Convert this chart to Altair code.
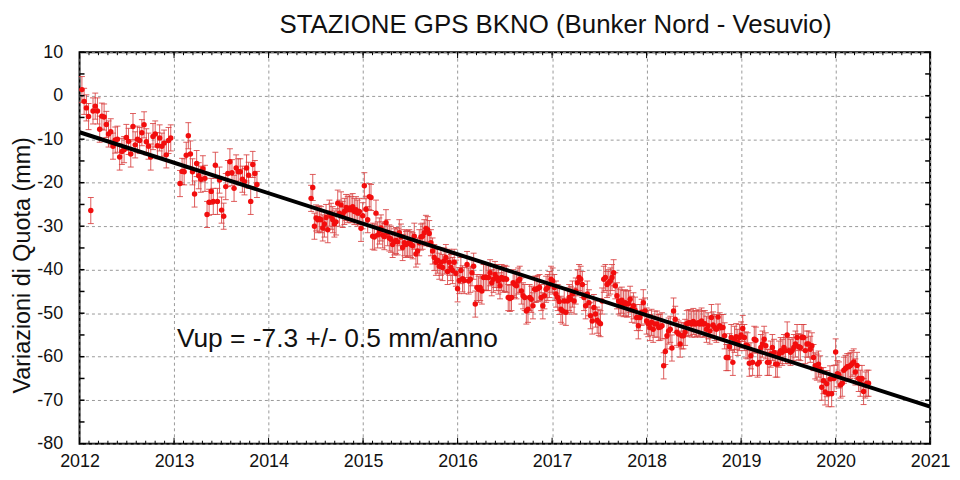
import altair as alt
import numpy as np
import pandas as pd

# ---------------- data ----------------
# segments of the GPS time series: (start year, end year) and vertical variations (mm)
seg_a1_years = (2012.025, 2012.965)
seg_a1_vals = [1.4, -1.3, -2.8, -4.8, -26.4, -3.5, -2.4, -3.5, -7.7, -4.7,
               -4.9, -6.6, -8.8, -8.3, -11.6, -10.2, -10.0, -14.1, -12.8, -12.4,
               -9.6, -10.5, -13.4, -7.1, -11.3, -10.0, -10.3, -8.5, -6.7, -10.6,
               -11.6, -14.1, -9.4, -8.8, -11.5, -9.7, -11.6, -10.9, -13.6, -10.3,
               -9.7]

seg_a2_years = (2013.063, 2013.877)
seg_a2_vals = [-20.2, -17.4, -17.5, -13.7, -9.2, -13.4, -17.5, -22.6, -15.6, -18.4,
               -19.2, -16.8, -19.0, -27.3, -24.5, -22.0, -24.3, -16.0, -24.3, -19.4,
               -26.3, -27.7, -20.9, -17.9, -15.2, -17.7, -21.3, -16.6, -17.5, -17.5,
               -19.2, -19.8, -16.6, -18.3, -24.3, -15.8, -17.9, -20.4]

seg_b_years = (2014.45, 2016.07)
seg_b_vals = [-23.6, -21.1, -30.0, -28.1, -28.5, -28.3, -28.5, -30.4, -29.5, -28.0,
              -30.8, -27.0, -27.7, -28.5, -29.5, -29.0, -24.7, -27.0, -25.1, -27.3,
              -26.6, -25.7, -26.2, -25.8, -26.2, -25.5, -26.6, -26.2, -27.0, -26.6,
              -30.5, -27.6, -20.7, -26.1, -28.5, -23.2, -23.4, -32.3, -32.5, -27.0,
              -32.0, -31.1, -30.4, -32.0, -32.4, -29.2, -31.5, -32.7, -33.0, -34.2,
              -33.6, -33.3, -33.6, -31.5, -32.5, -34.9, -33.8, -34.2, -34.0, -33.8,
              -34.2, -34.5, -32.3, -36.4, -35.7, -33.8, -32.5, -32.3, -31.5, -30.5,
              -30.8, -31.7, -33.8, -35.7, -37.2, -38.3, -37.8, -39.2, -38.3, -39.5,
              -38.0, -37.2, -40.4, -38.3, -39.5, -40.2, -38.3, -40.8, -44.4, -42.5,
              -40.2, -42.1, -42.5]

seg_c_years = (2016.10, 2018.087)
seg_c_vals = [-38.8, -42.6, -42.2, -40.7, -39.2, -47.9, -44.1, -44.5, -44.1, -44.9,
              -41.8, -41.7, -41.8, -41.8, -40.7, -43.0, -42.2, -41.1, -41.8, -42.6,
              -43.7, -41.8, -42.2, -42.0, -42.2, -46.4, -46.6, -46.4, -43.0, -43.4,
              -43.7, -42.6, -42.2, -44.9, -46.0, -46.4, -49.5, -49.1, -46.4, -46.8,
              -48.3, -44.5, -44.5, -44.3, -44.1, -46.4, -48.3, -46.0, -44.5, -44.1,
              -43.4, -42.2, -42.6, -44.1, -45.6, -46.4, -47.3, -49.1, -49.5, -47.2,
              -49.8, -47.2, -46.4, -46.8, -45.6, -47.2, -44.9, -43.0, -41.8, -42.2,
              -43.4, -46.4, -48.3, -45.6, -47.6, -50.6, -51.8, -48.7, -50.2, -51.6,
              -52.1, -52.4, -47.2, -42.2, -41.8, -43.4, -43.0, -42.6, -41.8, -40.7,
              -43.7, -46.0, -47.2, -47.6, -47.0, -47.8, -47.6, -47.9, -47.8, -46.8,
              -49.1, -48.3, -49.3, -51.0, -52.9, -51.0, -49.8, -47.6, -49.5, -51.8,
              -52.4, -53.3, -52.1, -53.7, -52.5]

seg_d_years = (2018.111, 2019.958)
seg_d_vals = [-52.5, -53.3, -53.2, -52.9, -62.1, -58.8, -55.2, -54.1, -53.7, -58.0,
              -49.5, -51.4, -54.4, -54.8, -57.1, -55.2, -55.2, -54.4, -52.4, -52.2,
              -52.2, -52.5, -51.9, -52.5, -52.4, -52.2, -52.5, -51.8, -52.5, -52.4,
              -53.7, -52.9, -54.1, -51.0, -52.7, -53.3, -53.7, -50.9, -52.9, -53.3,
              -53.3, -55.2, -60.2, -60.2, -57.7, -55.6, -61.3, -56.0, -55.4, -56.7,
              -55.6, -55.0, -53.5, -55.6, -57.3, -57.5, -61.5, -59.8, -61.3, -56.0,
              -56.2, -61.7, -61.3, -57.9, -57.1, -56.0, -57.5, -61.3, -61.3, -59.4,
              -57.9, -59.0, -61.7, -61.7, -59.4, -58.6, -59.0, -57.9, -58.6, -55.0,
              -58.6, -59.0, -58.6, -57.9, -57.1, -55.6, -57.7, -57.9, -55.6, -55.6,
              -58.6, -57.1, -57.1, -58.3, -57.5, -60.2, -62.1, -62.4, -61.7, -62.8,
              -67.0, -65.5, -68.1, -66.2, -68.5, -65.1, -68.5]

seg_e_years = (2019.983, 2020.348)
seg_e_vals = [-65.0, -58.9, -63.9, -64.2, -66.5, -66.1, -63.1, -62.7, -62.3, -62.3,
              -62.0, -61.6, -61.2, -63.5, -62.0, -65.0, -66.1, -65.0, -68.0, -66.5,
              -66.1, -66.1]

ERR_MM = 3.0  # error bar half-length (mm)

# linear trend drawn in the picture
fit_years = [2012.0, 2021.0]
fit_vals = [-8.4, -71.5]

annotation_text = "Vup = -7.3 +/- 0.5 mm/anno"
annotation_pos = (2013.03, -57.8)

x_tick_labels = list(range(2012, 2022))
y_tick_labels = list(range(-80, 11, 10))
y_minor_ticks = list(range(-80, 11, 5))
x_minor_ticks = [round(2012 + i / 10, 1) for i in range(0, 91)]

title_text = "STAZIONE GPS BKNO (Bunker Nord - Vesuvio)"
y_title = "Variazioni di Quota (mm)"

# ---------------- build tables ----------------
segments = [(seg_a1_years, seg_a1_vals), (seg_a2_years, seg_a2_vals),
            (seg_b_years, seg_b_vals), (seg_c_years, seg_c_vals),
            (seg_d_years, seg_d_vals), (seg_e_years, seg_e_vals)]
rows = []
for (y0, y1), vals in segments:
    yrs = np.linspace(y0, y1, len(vals))
    for t, v in zip(yrs, vals):
        rows.append({"year": float(t), "val": v, "lo": v - ERR_MM, "hi": v + ERR_MM})
df = pd.DataFrame(rows)
fit_df = pd.DataFrame({"year": fit_years, "val": fit_vals})
ann_df = pd.DataFrame({"year": [annotation_pos[0]], "val": [annotation_pos[1]],
                       "label": [annotation_text]})
title_df = pd.DataFrame({"label": [title_text]})
xminor_df = pd.DataFrame({"year": x_minor_ticks})
xmajor_df = pd.DataFrame({"year": x_tick_labels})
yminor_df = pd.DataFrame({"val": y_minor_ticks})

W, H = 856, 394
FONT = "Liberation Sans"
RED = "#f20d0d"
BAR = "#d84040"

xs = alt.Scale(domain=[2012, 2021], nice=False, zero=False)
ys = alt.Scale(domain=[-80, 10], nice=False, zero=False)

x_axis = alt.Axis(values=x_tick_labels, format="d", title=None, labelPadding=9,
                  labelFlush=False, labelOverlap=False, orient="bottom")
y_axis = alt.Axis(values=y_tick_labels, title=y_title, labelPadding=17,
                  labelExpr="'' + datum.value",
                  labelOverlap=False, titleAngle=270, titleX=-57, titleY=214,
                  titleAlign="center", titleBaseline="middle", titleFontSize=23.5,
                  titleFont=FONT, titleFontWeight="normal", titleColor="#111111",
                  orient="left")

X = lambda f: alt.X(f, scale=xs, axis=x_axis)
Y = lambda f: alt.Y(f, scale=ys, axis=y_axis)

base = alt.Chart(df)

bars = base.mark_rule(color=BAR, strokeWidth=1, opacity=0.85).encode(
    x=X("year:Q"), y=Y("lo:Q"), y2="hi:Q")
cap_lo = base.mark_tick(color=BAR, orient="horizontal", size=6, thickness=1,
                        opacity=0.85).encode(x=X("year:Q"), y=Y("lo:Q"))
cap_hi = base.mark_tick(color=BAR, orient="horizontal", size=6, thickness=1,
                        opacity=0.85).encode(x=X("year:Q"), y=Y("hi:Q"))
points = base.mark_circle(color=RED, size=30, opacity=1).encode(
    x=X("year:Q"), y=Y("val:Q"))
fit = alt.Chart(fit_df).mark_line(color="black", strokeWidth=4).encode(
    x=X("year:Q"), y=Y("val:Q"))
ann = alt.Chart(ann_df).mark_text(align="left", baseline="alphabetic", fontSize=26.5,
                                  font=FONT, color="#111111").encode(
    x=X("year:Q"), y=Y("val:Q"), text="label:N")
title = alt.Chart(title_df).mark_text(align="center", baseline="alphabetic", fontSize=26,
                                      font=FONT, color="#111111").encode(
    x=alt.value(W / 2 + 51), y=alt.value(-19), text="label:N")

def xticks(data, length):
    top = alt.Chart(data).mark_rule(color="black", strokeWidth=1).encode(
        x=X("year:Q"), y=alt.value(0), y2=alt.value(length))
    bot = alt.Chart(data).mark_rule(color="black", strokeWidth=1).encode(
        x=X("year:Q"), y=alt.value(H), y2=alt.value(H - length))
    return [top, bot]

yt_left = alt.Chart(yminor_df).mark_rule(color="black", strokeWidth=1.5).encode(
    y=Y("val:Q"), x=alt.value(0), x2=alt.value(5))
yt_right = alt.Chart(yminor_df).mark_rule(color="black", strokeWidth=1.5).encode(
    y=Y("val:Q"), x=alt.value(W), x2=alt.value(W - 5))

chart = alt.layer(
    bars, cap_lo, cap_hi, points, fit, ann, title,
    *xticks(xminor_df, 3), *xticks(xmajor_df, 6), yt_left, yt_right,
).properties(
    width=W, height=H,
    background="white",
    autosize=alt.AutoSizeParams(type="none"),
    padding={"left": 72, "right": 22, "top": 43, "bottom": 27},
).configure_view(
    stroke="black", strokeWidth=2
).configure_axis(
    labelFont=FONT, labelFontSize=18, labelColor="#111111",
    domain=False, ticks=False, tickSize=0,
    grid=True, gridColor="#999999", gridDash=[3, 3], gridWidth=1,
)

chart.save("out.html", embed_options={"renderer": "svg", "actions": False})
